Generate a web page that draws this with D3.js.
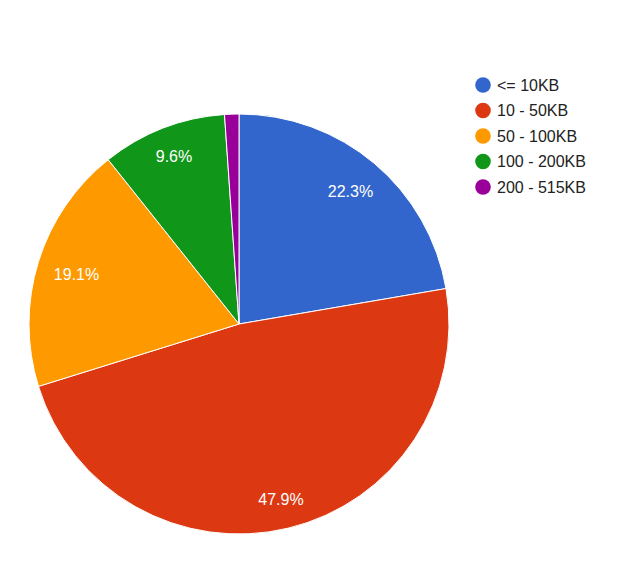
<!DOCTYPE html>
<html>
<head>
<meta charset="utf-8">
<script src="https://cdn.jsdelivr.net/npm/d3@7"></script>
<style>
  body { margin: 0; background: #fff; }
  svg { display: block; font-family: Arial, "Liberation Sans", sans-serif; }
</style>
</head>
<body>
<svg id="chart" width="626" height="572"></svg>
<script>
const categories = ["<= 10KB", "10 - 50KB", "50 - 100KB", "100 - 200KB", "200 - 515KB"];
const values = [22.3, 47.9, 19.1, 9.6, 1.1];
const colours = ["#3366cc", "#dc3912", "#ff9900", "#109618", "#990099"];

const svg = d3.select("#chart");
const cx = 239, cy = 324, radius = 210;

const pie = d3.pie().sort(null).value(d => d.value);
const data = categories.map((c, i) => ({ name: c, value: values[i], colour: colours[i] }));
const arcs = pie(data);

const arc = d3.arc().innerRadius(0).outerRadius(radius);
const total = d3.sum(values);

const g = svg.append("g").attr("transform", `translate(${cx}, ${cy})`);

g.selectAll("path")
  .data(arcs)
  .enter()
  .append("path")
  .attr("d", arc)
  .attr("fill", d => d.data.colour)
  .attr("stroke", "#fff")
  .attr("stroke-width", 1);

// labels only on slices big enough to hold them,
// pushed out until the far corner of the text box touches the limit
const limit = 194;
g.selectAll("text")
  .data(arcs.filter(d => d.data.value / total > 0.05))
  .enter()
  .append("text")
  .attr("text-anchor", "middle")
  .attr("dy", "0.35em")
  .attr("fill", "#fff")
  .attr("font-size", 16)
  .text(d => (d.data.value / total * 100).toFixed(1) + "%")
  .each(function (d) {
    const box = this.getBBox();
    const hw = box.width / 2, hh = 8;
    const a = (d.startAngle + d.endAngle) / 2;
    const ux = Math.sin(a), uy = -Math.cos(a);
    let lo = 0, hi = radius;
    for (let k = 0; k < 30; k++) {
      const t = (lo + hi) / 2;
      const fx = Math.abs(t * ux) + hw, fy = Math.abs(t * uy) + hh;
      if (Math.hypot(fx, fy) > limit) hi = t; else lo = t;
    }
    d3.select(this).attr("transform", `translate(${lo * ux}, ${lo * uy})`);
  });

// legend
const legend = svg.append("g").attr("transform", "translate(483, 85)");
const y = d3.scalePoint().domain(categories).range([0, 102]);

const item = legend.selectAll("g")
  .data(data)
  .enter()
  .append("g")
  .attr("transform", d => `translate(0, ${y(d.name)})`);

item.append("circle")
  .attr("r", 7.8)
  .attr("fill", d => d.colour);

item.append("text")
  .attr("x", 14)
  .attr("dy", "0.36em")
  .attr("font-size", 16)
  .attr("fill", "#222")
  .text(d => d.name);
</script>
</body>
</html>
